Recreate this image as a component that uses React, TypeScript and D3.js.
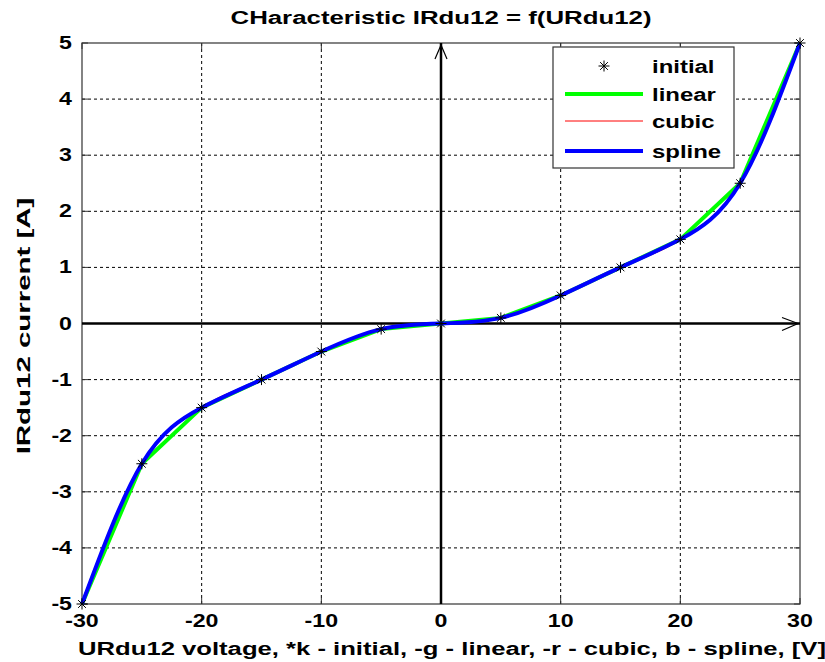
import React from "react";
import * as d3 from "d3";

const voltage = [-30, -25, -20, -15, -10, -5, 0, 5, 10, 15, 20, 25, 30];
const current = [-5, -2.5, -1.5, -1, -0.5, -0.1, 0, 0.1, 0.5, 1, 1.5, 2.5, 5];
const xTicks = [-30, -20, -10, 0, 10, 20, 30];
const yTicks = [-5, -4, -3, -2, -1, 0, 1, 2, 3, 4, 5];
const legendItems = ["initial", "linear", "cubic", "spline"];

const W = 825, H = 662;
const L = 82, R = 800, T = 43, B = 604;
const FONT = "'Liberation Sans', Arial, sans-serif";

function asterisk(cx: number, cy: number, r: number) {
  let d = "";
  for (let i = 0; i < 4; i++) {
    const a = (i * Math.PI) / 4;
    const dx = Math.cos(a) * r, dy = Math.sin(a) * r;
    d += `M${cx - dx},${cy - dy}L${cx + dx},${cy + dy}`;
  }
  return d;
}

function Txt(props: { x: number; y: number; sx: number; anchor?: string; rot?: number; children: React.ReactNode }) {
  const { x, y, sx, anchor = "start", rot = 0, children } = props;
  return (
    <text
      transform={`translate(${x},${y}) rotate(${rot}) scale(${sx},1)`}
      textAnchor={anchor}
      fontWeight="bold"
      fontSize={19}
      fill="#000"
    >
      {children}
    </text>
  );
}

export default function App() {
  const x = d3.scaleLinear().domain([-30, 30]).range([L, R]);
  const y = d3.scaleLinear().domain([-5, 5]).range([B, T]);
  const pts: [number, number][] = voltage.map((v, i) => [v, current[i]]);
  const mk = (c: d3.CurveFactory) =>
    d3.line<[number, number]>().x((d) => x(d[0])).y((d) => y(d[1])).curve(c)(pts) || "";
  const linearPath = mk(d3.curveLinear);
  const cubicPath = mk(d3.curveMonotoneX);
  const splinePath = mk(d3.curveNatural);
  const x0 = x(0), y0 = y(0);
  const tick = 6;

  const legX = 553, legY = 47, legW = 181, legH = 121;
  const rowY = [66, 94, 121, 151];

  return (
    <svg width={W} height={H} style={{ position: "absolute", left: 0, top: 0, background: "#fff" }} fontFamily={FONT}>
      <rect x={0} y={0} width={W} height={H} fill="#fff" />
      {/* grid */}
      <g stroke="#000" strokeWidth={1} strokeDasharray="3,3">
        {xTicks.filter((t) => t !== -30 && t !== 30).map((t) => (
          <line key={"gx" + t} x1={x(t)} x2={x(t)} y1={T} y2={B} />
        ))}
        {yTicks.filter((t) => t !== -5 && t !== 5).map((t) => (
          <line key={"gy" + t} x1={L} x2={R} y1={y(t)} y2={y(t)} />
        ))}
      </g>
      {/* frame */}
      <rect x={L} y={T} width={R - L} height={B - T} fill="none" stroke="#333" strokeWidth={1.2} />
      {/* ticks */}
      <g stroke="#333" strokeWidth={1}>
        {xTicks.map((t) => (
          <g key={"tx" + t}>
            <line x1={x(t)} x2={x(t)} y1={B} y2={B - tick} />
            <line x1={x(t)} x2={x(t)} y1={T} y2={T + tick} />
          </g>
        ))}
        {yTicks.map((t) => (
          <g key={"ty" + t}>
            <line x1={L} x2={L + tick} y1={y(t)} y2={y(t)} />
            <line x1={R} x2={R - tick} y1={y(t)} y2={y(t)} />
          </g>
        ))}
      </g>
      {/* axes through origin with arrows */}
      <g stroke="#000" fill="none">
        <line x1={x0} x2={x0} y1={B} y2={T} strokeWidth={2.5} />
        <line x1={L} x2={R} y1={y0} y2={y0} strokeWidth={2.5} />
        <path d={`M${x0 - 6},${T + 16}L${x0},${T + 2}L${x0 + 6},${T + 16}`} strokeWidth={1.2} />
        <path d={`M${R - 18},${y0 - 6}L${R - 2},${y0}L${R - 18},${y0 + 7}`} strokeWidth={1.2} />
      </g>
      {/* curves */}
      <path d={linearPath} fill="none" stroke="#00ff00" strokeWidth={4} />
      <path d={cubicPath} fill="none" stroke="#ff0000" strokeWidth={1} />
      <path d={splinePath} fill="none" stroke="#0000ff" strokeWidth={4} />
      <g stroke="#000" strokeWidth={1}>
        {pts.map((p, i) => (
          <path key={"m" + i} d={asterisk(x(p[0]), y(p[1]), 5.5)} />
        ))}
      </g>
      {/* tick labels */}
      {xTicks.map((t) => (
        <Txt key={"lx" + t} x={x(t)} y={627} sx={1.22} anchor="middle">{t}</Txt>
      ))}
      {yTicks.map((t) => (
        <Txt key={"ly" + t} x={72} y={y(t) + 6} sx={1.22} anchor="end">{t}</Txt>
      ))}
      {/* labels */}
      <Txt x={441} y={24} sx={1.36} anchor="middle">CHaracteristic IRdu12 = f(URdu12)</Txt>
      <Txt x={452} y={655} sx={1.35} anchor="middle">
        URdu12 voltage, *k - initial, -g - linear, -r - cubic, b - spline, [V]
      </Txt>
      <Txt x={30} y={326} sx={1.55} rot={-90} anchor="middle">IRdu12 current [A]</Txt>
      {/* legend */}
      <rect x={legX} y={legY} width={legW} height={legH} fill="#fff" stroke="#333" strokeWidth={1.2} />
      <path d={asterisk(604, rowY[0], 5.5)} stroke="#000" strokeWidth={1} />
      <line x1={565} x2={643} y1={rowY[1]} y2={rowY[1]} stroke="#00ff00" strokeWidth={4} />
      <line x1={565} x2={643} y1={rowY[2]} y2={rowY[2]} stroke="#ff0000" strokeWidth={1} />
      <line x1={565} x2={643} y1={rowY[3]} y2={rowY[3]} stroke="#0000ff" strokeWidth={4} />
      {legendItems.map((s, i) => (
        <Txt key={s} x={652} y={rowY[i] + 7} sx={1.26}>{s}</Txt>
      ))}
    </svg>
  );
}
